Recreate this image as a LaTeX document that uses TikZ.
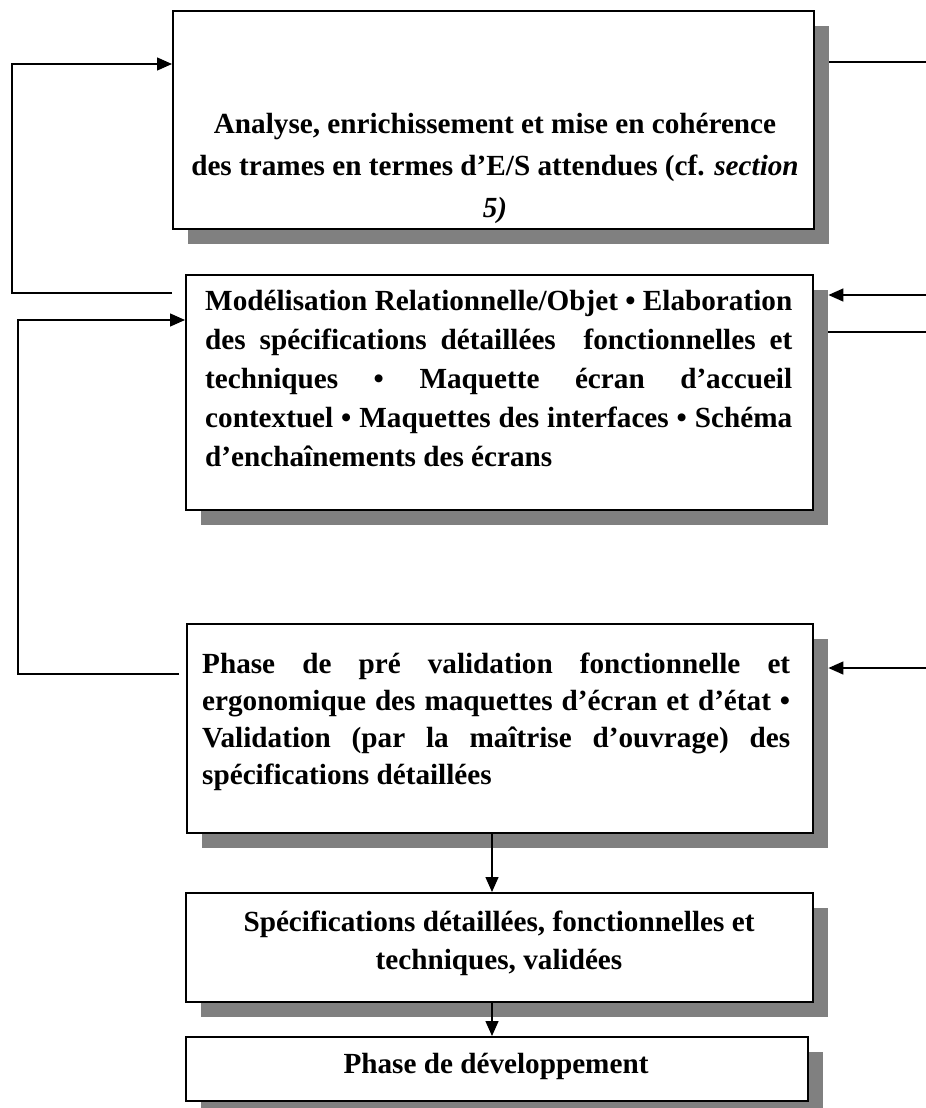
\documentclass[tikz,border=0pt]{standalone}
\usepackage{fontspec}
\setmainfont{Liberation Serif}
\usetikzlibrary{arrows.meta}
\definecolor{shadowgray}{HTML}{808080}
\begin{document}
\begin{tikzpicture}[x=1pt,y=-1pt,
  boxnode/.style={draw=black,line width=1.8pt,fill=white,anchor=north west,inner sep=0pt},
  shadownode/.style={fill=shadowgray,draw=none,anchor=north west,inner sep=0pt},
  txt/.style={inner sep=0pt,font=\bfseries\fontsize{29.2}{38}\selectfont},
  conn/.style={line width=1.4pt},
  arr/.style={conn,-{Triangle[length=15pt,width=13pt]}}]
\useasboundingbox (0,0) rectangle (926,1108);
% shadows
\node[shadownode,minimum width=641pt,minimum height=218pt] (sh1) at (188,26) {};
\node[shadownode,minimum width=627pt,minimum height=235pt] (sh2) at (201,290) {};
\node[shadownode,minimum width=626pt,minimum height=209pt] (sh3) at (202,639) {};
\node[shadownode,minimum width=627pt,minimum height=109pt] (sh4) at (201,908) {};
\node[shadownode,minimum width=622pt,minimum height=64pt] (sh5) at (201,1052) {};
% boxes
\node[boxnode,minimum width=641pt,minimum height=218pt] (b1) at (172,10) {};
\node[boxnode,minimum width=627pt,minimum height=235pt] (b2) at (185,274) {};
\node[boxnode,minimum width=626pt,minimum height=209pt] (b3) at (186,623) {};
\node[boxnode,minimum width=627pt,minimum height=109pt] (b4) at (185,892) {};
\node[boxnode,minimum width=622pt,minimum height=64pt] (b5) at (185,1036) {};
% texts
\node[txt,font=\bfseries\fontsize{29.2}{42}\selectfont,anchor=north,align=center] (t1) at (495,113)
  {Analyse, enrichissement et mise en cohérence\\des trames en termes d’E/S attendues (cf. \textit{section}\\\textit{5)}};
\node[txt,font=\bfseries\fontsize{29.2}{39}\selectfont,anchor=north west,align=left] (t2) at (205,290)
  {\makebox[587pt][s]{Modélisation Relationnelle/Objet • Elaboration}\\
   \makebox[587pt][s]{des spécifications détaillées\ \ fonctionnelles et}\\
   \makebox[587pt][s]{techniques • Maquette écran d’accueil}\\
   \makebox[587pt][s]{contextuel • Maquettes des interfaces • Schéma}\\
   d’enchaînements des écrans};
\node[txt,font=\bfseries\fontsize{29.2}{37}\selectfont,anchor=north west,align=left] (t3) at (202,653)
  {\makebox[588pt][s]{Phase de pré validation fonctionnelle et}\\
   \makebox[588pt][s]{ergonomique des maquettes d’écran et d’état •}\\
   \makebox[588pt][s]{Validation (par la maîtrise d’ouvrage) des}\\
   spécifications détaillées};
\node[txt,anchor=north,align=center] (t4) at (499,911)
  {Spécifications détaillées, fonctionnelles et\\techniques, validées};
\node[txt,anchor=north,align=center] (t5) at (496,1053) {Phase de développement};
% free ends of connectors
\coordinate (l1) at (172,293);
\coordinate (l1a) at (12,293);
\coordinate (e1) at (12,64);
\coordinate (l2) at (179,674);
\coordinate (l2a) at (18,674);
\coordinate (e2) at (18,320);
\coordinate (r1) at (926,62);
\coordinate (r2) at (926,295);
\coordinate (r3) at (926,332);
\coordinate (r4) at (926,668);
\coordinate (dx) at (492,0);
% connectors
\draw[arr] (l1) -- (l1a) -- (e1) -- (e1 -| b1.west);
\draw[arr] (l2) -- (l2a) -- (e2) -- (e2 -| b2.west);
\draw[conn] (r1 -| sh1.east) -- (r1);
\draw[arr] (r2) -- (r2 -| sh2.east);
\draw[conn] (r3 -| sh2.east) -- (r3);
\draw[arr] (r4) -- (r4 -| sh3.east);
\draw[arr] (dx |- b3.south) -- (dx |- b4.north);
\draw[arr] (dx |- b4.south) -- (dx |- b5.north);
\end{tikzpicture}
\end{document}
